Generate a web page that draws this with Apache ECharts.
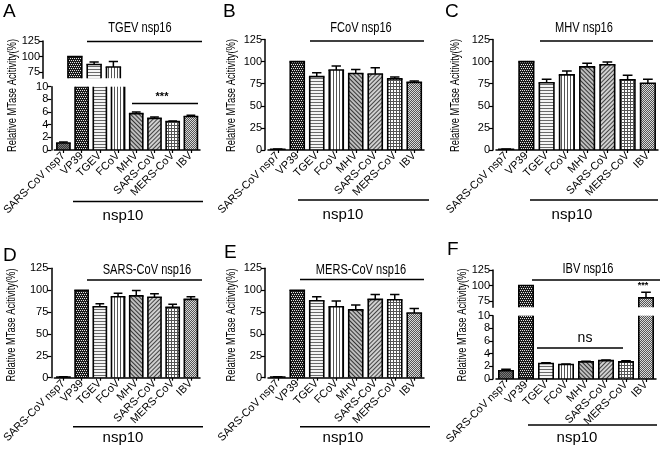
<!DOCTYPE html>
<html><head><meta charset="utf-8">
<script src="https://cdn.jsdelivr.net/npm/echarts@6/dist/echarts.min.js"></script>
<style>html,body{margin:0;padding:0;background:#fff}#c{width:660px;height:452px}</style>
</head><body><div id="c"></div>
<script>
// ---------- data ----------
const categories = ['SARS-CoV nsp7', 'VP39', 'TGEV', 'FCoV', 'MHV', 'SARS-CoV', 'MERS-CoV', 'IBV'];
const panelLetters = ['A', 'B', 'C', 'D', 'E', 'F'];
const panelTitles = ['TGEV nsp16', 'FCoV nsp16', 'MHV nsp16', 'SARS-CoV nsp16', 'MERS-CoV nsp16', 'IBV nsp16'];
const groupLabel = 'nsp10';
const yAxisTitle = 'Relative MTase Acitivity(%)';

const tgevMean = [1.1, 100, 87, 83, 5.75, 5.0, 4.5, 5.3];
const tgevErr  = [0.15, 0, 4, 9, 0.25, 0.2, 0.1, 0.2];
const fcovMean = [0.8, 100, 83, 90.5, 86.5, 86, 80.5, 76.5];
const fcovErr  = [0.3, 0, 4.5, 4.5, 4.5, 7, 2, 1.5];
const mhvMean  = [0.8, 100, 76, 85, 94, 96.5, 79.5, 75.5];
const mhvErr   = [0.3, 0, 4, 4.5, 4, 3, 5, 4.5];
const sarsMean = [0.8, 100, 81, 92.5, 93.5, 92, 80.5, 89.5];
const sarsErr  = [0.3, 0, 3.5, 4, 6, 4, 3.5, 3];
const mersMean = [0.8, 100, 88, 81, 77.5, 89.5, 89, 74];
const mersErr  = [0.3, 0, 4.5, 6.5, 5.5, 5.5, 6, 5];
const ibvMean  = [1.3, 100, 2.45, 2.3, 2.7, 2.9, 2.7, 80];
const ibvErr   = [0.25, 0, 0.1, 0.05, 0.1, 0.1, 0.2, 9];

const yTicksFull  = [0, 25, 50, 75, 100, 125];
const yTicksLower = [0, 2, 4, 6, 8, 10];
const yTicksUpper = [75, 100, 125];
const sigLabels = ['***', 'ns', '***'];

const means = [tgevMean, fcovMean, mhvMean, sarsMean, mersMean, ibvMean];
const errs  = [tgevErr, fcovErr, mhvErr, sarsErr, mersErr, ibvErr];
const brokenAxis = [true, false, false, false, false, true];

// ---------- styles / layout ----------
const fontReg = "'Liberation Sans', Arial, sans-serif";
const Q = Math.PI / 4;
const BAR_FRAC = 0.72;
const barStyles = [
  {color: '#7a7a7a', decal: {symbol: 'rect', symbolSize: 1, dashArrayX: [[1, 1], [0, 1, 1, 0]], dashArrayY: [1, 0], color: '#3a3a3a'}},
  {color: '#1a1a1a', decal: {symbol: 'rect', symbolSize: 1, dashArrayX: [[1, 1], [0, 1, 1, 0]], dashArrayY: [1, 1], color: '#e6e6e6'}},
  {color: '#f4f4f4', decal: {symbol: 'rect', symbolSize: 1, dashArrayX: [1, 0], dashArrayY: [1, 2], color: '#6a6a6a'}},
  {color: '#ffffff', decal: {symbol: 'rect', symbolSize: 1, dashArrayX: [1, 2], dashArrayY: [1, 0], color: '#555'}},
  {color: '#bdbdbd', decal: {symbol: 'rect', symbolSize: 1, dashArrayX: [1, 0], dashArrayY: [1, 1.5], rotation: Q, color: '#333'}},
  {color: '#d0d0d0', decal: {symbol: 'rect', symbolSize: 1, dashArrayX: [1, 0], dashArrayY: [1, 1.5], rotation: -Q, color: '#444'}},
  {color: '#ffffff', decal: {symbol: 'rect', symbolSize: 1, dashArrayX: [[3, 0], [1, 2], [1, 2]], dashArrayY: [1, 0], color: '#555'}},
  {color: '#d8d8d8', decal: {symbol: 'rect', symbolSize: 1, dashArrayX: [[1, 1], [0, 1, 1, 0]], dashArrayY: [1, 0], color: '#555'}}
];

const layout = [
  {gl: 46, gw: 154, upper: {top: 41, h: 37.2}, lower: {top: 86.7, h: 63.3}, letter: [3, 2], title: [140, 28], tline: [87, 202, 41.5], nline: [73, 203, 201.5], ntext: [123, 216], yname: [13, 95.5]},
  {gl: 268, gw: 156, full: {top: 39.5, h: 110.5}, letter: [223, 2], title: [361, 28], tline: [310, 424, 41], nline: [298, 429, 200], ntext: [343, 215], yname: [232, 95.5]},
  {gl: 496, gw: 162, full: {top: 39.5, h: 110.5}, letter: [445, 2], title: [584, 28], tline: [540, 653, 41], nline: [530, 658, 200], ntext: [572, 215], yname: [456, 95.5]},
  {gl: 46, gw: 154, full: {top: 268.3, h: 109.4}, letter: [3, 246], title: [147, 270], tline: [87, 202, 280], nline: [73, 203, 426.7], ntext: [123, 438], yname: [12, 325]},
  {gl: 268, gw: 156, full: {top: 268.3, h: 109.4}, letter: [224, 243], title: [361, 270], tline: [300, 424, 279.5], nline: [300, 430, 426.7], ntext: [343, 438], yname: [232, 325]},
  {gl: 496, gw: 160, upper: {top: 270, h: 37.2}, lower: {top: 315.7, h: 63.3}, letter: [447, 240], title: [588, 269], tline: [532, 660, 280], nline: [528, 657, 425], ntext: [577, 438], yname: [463, 325]}
];
const sigLayout = [
  {at: [162, 97], line: [132, 198, 103.5], size: 11},
  {at: [585, 338], line: [537, 623, 348], size: 14},
  {at: [643, 286], size: 9}
];

// ---------- build option ----------
const grids = [], xAxes = [], yAxes = [], series = [], graphics = [];
const axisLineStyle = {color: '#000', width: 1.5};

function addGrid(L, top, h, showX, yCfg) {
  const gi = grids.length;
  grids.push({left: L.gl, top: top, width: L.gw, height: h, containLabel: false});
  xAxes.push({
    gridIndex: gi, type: 'category', data: categories, show: showX,
    axisLine: {show: true, lineStyle: axisLineStyle},
    axisTick: {show: true, alignWithLabel: true, length: 3, lineStyle: {color: '#000', width: 1.2}},
    axisLabel: {interval: 0, rotate: 45, fontSize: 11, fontFamily: fontReg, color: '#000', margin: 4}
  });
  yAxes.push(Object.assign({
    gridIndex: gi, type: 'value', offset: 3,
    axisLine: {show: true, lineStyle: axisLineStyle},
    splitLine: {show: false}
  }, yCfg));
  return gi;
}

function yCfgFromTicks(ticks) {
  return {
    min: ticks[0], max: ticks[ticks.length - 1], interval: ticks[1] - ticks[0],
    axisTick: {show: true, length: 4, lineStyle: {color: '#000', width: 1.2}},
    axisLabel: {fontSize: 11, fontFamily: fontReg, color: '#000', margin: 3}
  };
}

function addSeries(gi, p) {
  const m = means[p], e = errs[p];
  series.push({
    type: 'bar', xAxisIndex: gi, yAxisIndex: gi, barWidth: (BAR_FRAC * 100) + '%', clip: true,
    data: m.map((v, i) => ({value: v, itemStyle: Object.assign({borderWidth: 0}, barStyles[i])})),
    animation: false, silent: true
  });
  series.push({
    type: 'custom', xAxisIndex: gi, yAxisIndex: gi, clip: true, z: 4,
    data: m.map((v, i) => [i, v]),
    encode: {x: 0, y: 1},
    renderItem: function (params, api) {
      const i = api.value(0), v = api.value(1);
      const t = api.coord([i, v]), b = api.coord([i, 0]);
      const hw = api.size([1, 0])[0] * BAR_FRAC / 2;
      const x0 = t[0] - hw, x1 = t[0] + hw;
      const st = {stroke: '#000', lineWidth: 1.6, fill: null};
      return {type: 'group', children: [
        {type: 'line', shape: {x1: x0, y1: b[1], x2: x0, y2: t[1]}, style: st},
        {type: 'line', shape: {x1: x1, y1: b[1], x2: x1, y2: t[1]}, style: st},
        {type: 'line', shape: {x1: x0 - 0.8, y1: t[1], x2: x1 + 0.8, y2: t[1]}, style: st},
        {type: 'line', shape: {x1: x0, y1: b[1], x2: x1, y2: b[1]}, style: st}
      ]};
    },
    animation: false, silent: true
  });
  series.push({
    type: 'custom', xAxisIndex: gi, yAxisIndex: gi, clip: true, z: 5,
    data: m.map((v, i) => [i, v, e[i]]),
    encode: {x: 0, y: 1},
    renderItem: function (params, api) {
      const err = api.value(2);
      if (!(err > 0)) return null;
      const i = api.value(0), v = api.value(1);
      const a = api.coord([i, v]);
      const b = api.coord([i, v + err]);
      const hw = api.size([1, 0])[0] * 0.24;
      const st = {stroke: '#000', lineWidth: 1.5};
      return {type: 'group', children: [
        {type: 'line', shape: {x1: a[0], y1: a[1], x2: b[0], y2: b[1]}, style: st},
        {type: 'line', shape: {x1: b[0] - hw, y1: b[1], x2: b[0] + hw, y2: b[1]}, style: st}
      ]};
    },
    animation: false, silent: true
  });
}

function txt(text, x, y, font, opts) {
  graphics.push(Object.assign({
    type: 'text', x: x, y: y, silent: true,
    style: {text: text, font: font, fill: '#000', textAlign: 'center', textVerticalAlign: 'middle', align: 'center', verticalAlign: 'middle'}
  }, opts || {}));
}
function hline(x1, x2, y, w) {
  graphics.push({type: 'line', silent: true, shape: {x1: x1, y1: y, x2: x2, y2: y}, style: {stroke: '#000', lineWidth: w || 1.6}});
}

layout.forEach((L, p) => {
  if (brokenAxis[p]) {
    const up = addGrid(L, L.upper.top, L.upper.h, false, {
      min: 65, max: 125,
      axisTick: {show: true, length: 4, customValues: yTicksUpper, lineStyle: {color: '#000', width: 1.2}},
      axisLabel: {fontSize: 11, fontFamily: fontReg, color: '#000', margin: 3, customValues: yTicksUpper}
    });
    addSeries(up, p);
    const lo = addGrid(L, L.lower.top, L.lower.h, true, yCfgFromTicks(yTicksLower));
    addSeries(lo, p);
  } else {
    const g = addGrid(L, L.full.top, L.full.h, true, yCfgFromTicks(yTicksFull));
    addSeries(g, p);
  }
  graphics.push({type: 'text', x: L.letter[0], y: L.letter[1], silent: true,
    style: {text: panelLetters[p], font: '19px ' + fontReg, fill: '#000', textAlign: 'left', textVerticalAlign: 'top', align: 'left', verticalAlign: 'top'}});
  txt(panelTitles[p], L.title[0], L.title[1], '14px ' + fontReg, {scaleX: 0.79});
  hline(L.tline[0], L.tline[1], L.tline[2]);
  hline(L.nline[0], L.nline[1], L.nline[2]);
  txt(groupLabel, L.ntext[0], L.ntext[1], '15px ' + fontReg);
  txt(yAxisTitle, L.yname[0], L.yname[1], '12.5px ' + fontReg, {rotation: Math.PI / 2, scaleX: 0.75});
});

sigLayout.forEach((S, k) => {
  txt(sigLabels[k], S.at[0], S.at[1], (k === 1 ? '' : 'bold ') + S.size + 'px ' + fontReg);
  if (S.line) hline(S.line[0], S.line[1], S.line[2]);
});

const chart = echarts.init(document.getElementById('c'), null, {renderer: 'canvas'});
chart.setOption({
  animation: false,
  backgroundColor: '#fff',
  grid: grids, xAxis: xAxes, yAxis: yAxes, series: series,
  graphic: {elements: graphics}
});
</script>
</body></html>
